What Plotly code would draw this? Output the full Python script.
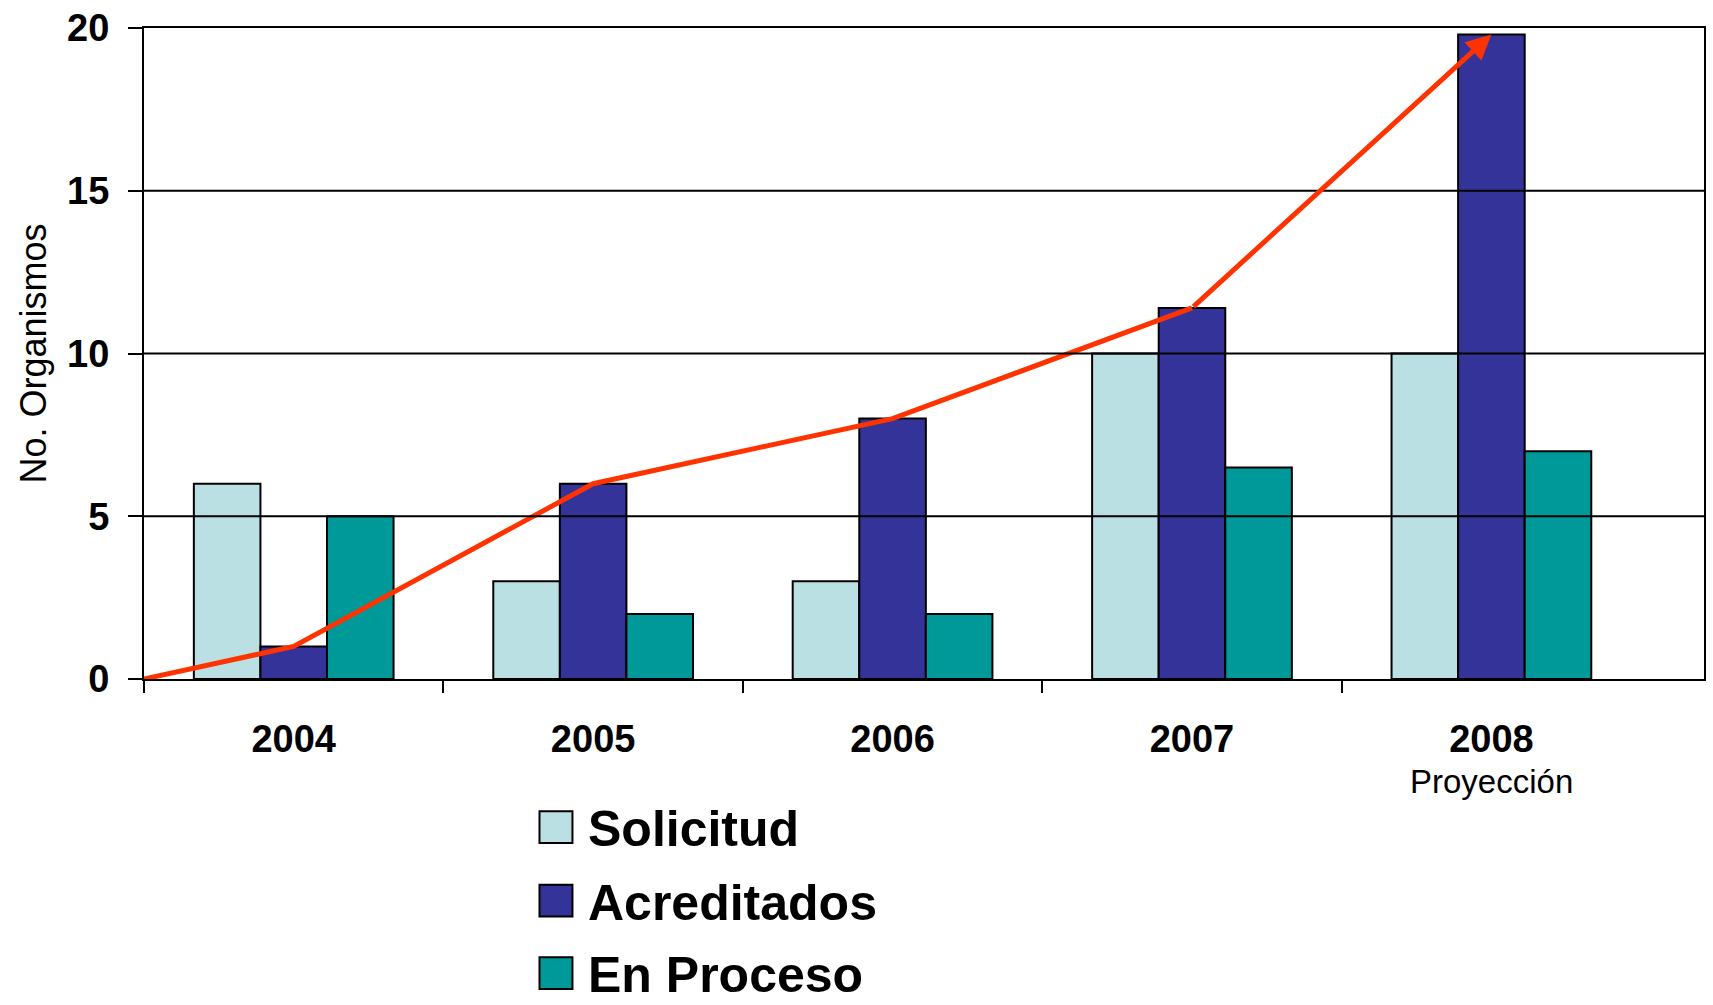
import plotly.graph_objects as go

# ---------------- data ----------------
years = ["2004", "2005", "2006", "2007", "2008"]
solicitud = [6, 3, 3, 10, 10]
acreditados = [1, 6, 8, 11.4, 19.8]
en_proceso = [5, 2, 2, 6.5, 7]
trend_start = 0
y_ticks = [0, 5, 10, 15, 20]
series_names = ["Solicitud", "Acreditados", "En Proceso"]
projection_note = "Proyección"
y_title = "No. Organismos"

# ---------------- layout geometry ----------------
W, H = 1713, 1005
L, R, T, B = 144, 7, 24, 326
plot_w = W - L - R
plot_h = H - T - B
x_range = [-0.5, 4.71]
y_range = [0, 20]
FONT = "Liberation Sans, Arial, sans-serif"


def px_x(px):
    return (px - L) / plot_w


def px_y(py):
    return (H - B - py) / plot_h


pos = list(range(len(years)))
colors = ["#BBE0E3", "#333399", "#009999"]

fig = go.Figure()
for name, vals, c in zip(series_names, [solicitud, acreditados, en_proceso], colors):
    fig.add_trace(go.Bar(
        x=pos, y=vals, name=name,
        marker=dict(color=c, line=dict(color="black", width=2)),
        showlegend=False,
    ))

# trend line over the Acreditados values, starting at zero on the left edge
line_x = [x_range[0]] + pos[:-1]
line_y = [trend_start] + acreditados[:-1]
fig.add_trace(go.Scatter(
    x=line_x, y=line_y, mode="lines",
    line=dict(color="#FF3300", width=5),
    showlegend=False, hoverinfo="skip",
))
fig.add_annotation(
    x=pos[-1], y=acreditados[-1], ax=pos[-2], ay=acreditados[-2],
    xref="x", yref="y", axref="x", ayref="y",
    showarrow=True, arrowhead=2, arrowsize=1, arrowwidth=5,
    arrowcolor="#FF3300", text="", standoff=0,
)

# gridlines drawn above the bars (as in the original)
for v in y_ticks[1:-1]:
    fig.add_shape(type="line", xref="paper", yref="y", x0=0, x1=1, y0=v, y1=v,
                  line=dict(color="black", width=2), layer="above")

# projection note under the last category
fig.add_annotation(
    x=pos[-1], xref="x", y=px_y(782), yref="paper",
    text=projection_note, showarrow=False, xanchor="center", yanchor="middle",
    font=dict(size=33, family=FONT, color="black"),
)

# legend drawn manually (large swatches)
legend_centers = [828, 902, 975]
for name, c, cy in zip(series_names, colors, legend_centers):
    fig.add_shape(type="rect", xref="paper", yref="paper",
                  x0=px_x(540), x1=px_x(573), y0=px_y(cy + 16), y1=px_y(cy - 16),
                  fillcolor=c, line=dict(color="black", width=2))
    fig.add_annotation(
        x=px_x(587), y=px_y(cy + 2), xref="paper", yref="paper",
        text=f"<b>{name}</b>", showarrow=False, xanchor="left", yanchor="middle",
        font=dict(size=50, family=FONT, color="black"),
    )

fig.update_layout(
    width=W, height=H,
    margin=dict(l=L, r=R, t=T, b=B),
    paper_bgcolor="white", plot_bgcolor="white",
    barmode="group", bargap=0.333, bargroupgap=0,
    font=dict(family=FONT, color="black"),
    showlegend=False,
    xaxis=dict(
        range=x_range, tickmode="array", tickvals=pos,
        ticktext=[f"<b>{y}</b>" for y in years],
        ticks="", tickfont=dict(size=38, family=FONT, color="black"),
        ticklabelstandoff=25,
        showline=True, linecolor="black", linewidth=2, mirror=True,
        showgrid=False, zeroline=False,
        minor=dict(tickmode="array", tickvals=[p - 0.5 for p in pos],
                   ticks="outside", ticklen=12, tickwidth=2, tickcolor="black",
                   showgrid=False),
    ),
    yaxis=dict(
        range=y_range, tickmode="array", tickvals=y_ticks,
        ticktext=[f"<b>{v}</b>" for v in y_ticks],
        ticks="outside", ticklen=14, tickwidth=2, tickcolor="black",
        tickfont=dict(size=38, family=FONT, color="black"),
        ticklabelstandoff=11,
        showline=True, linecolor="black", linewidth=2, mirror=True,
        showgrid=False, zeroline=False,
        title=dict(text=y_title, font=dict(size=36, family=FONT, color="black"),
                   standoff=10),
    ),
)

fig.write_html("out.html", config={"displayModeBar": False},
               post_script="document.body.style.margin='0px';")
